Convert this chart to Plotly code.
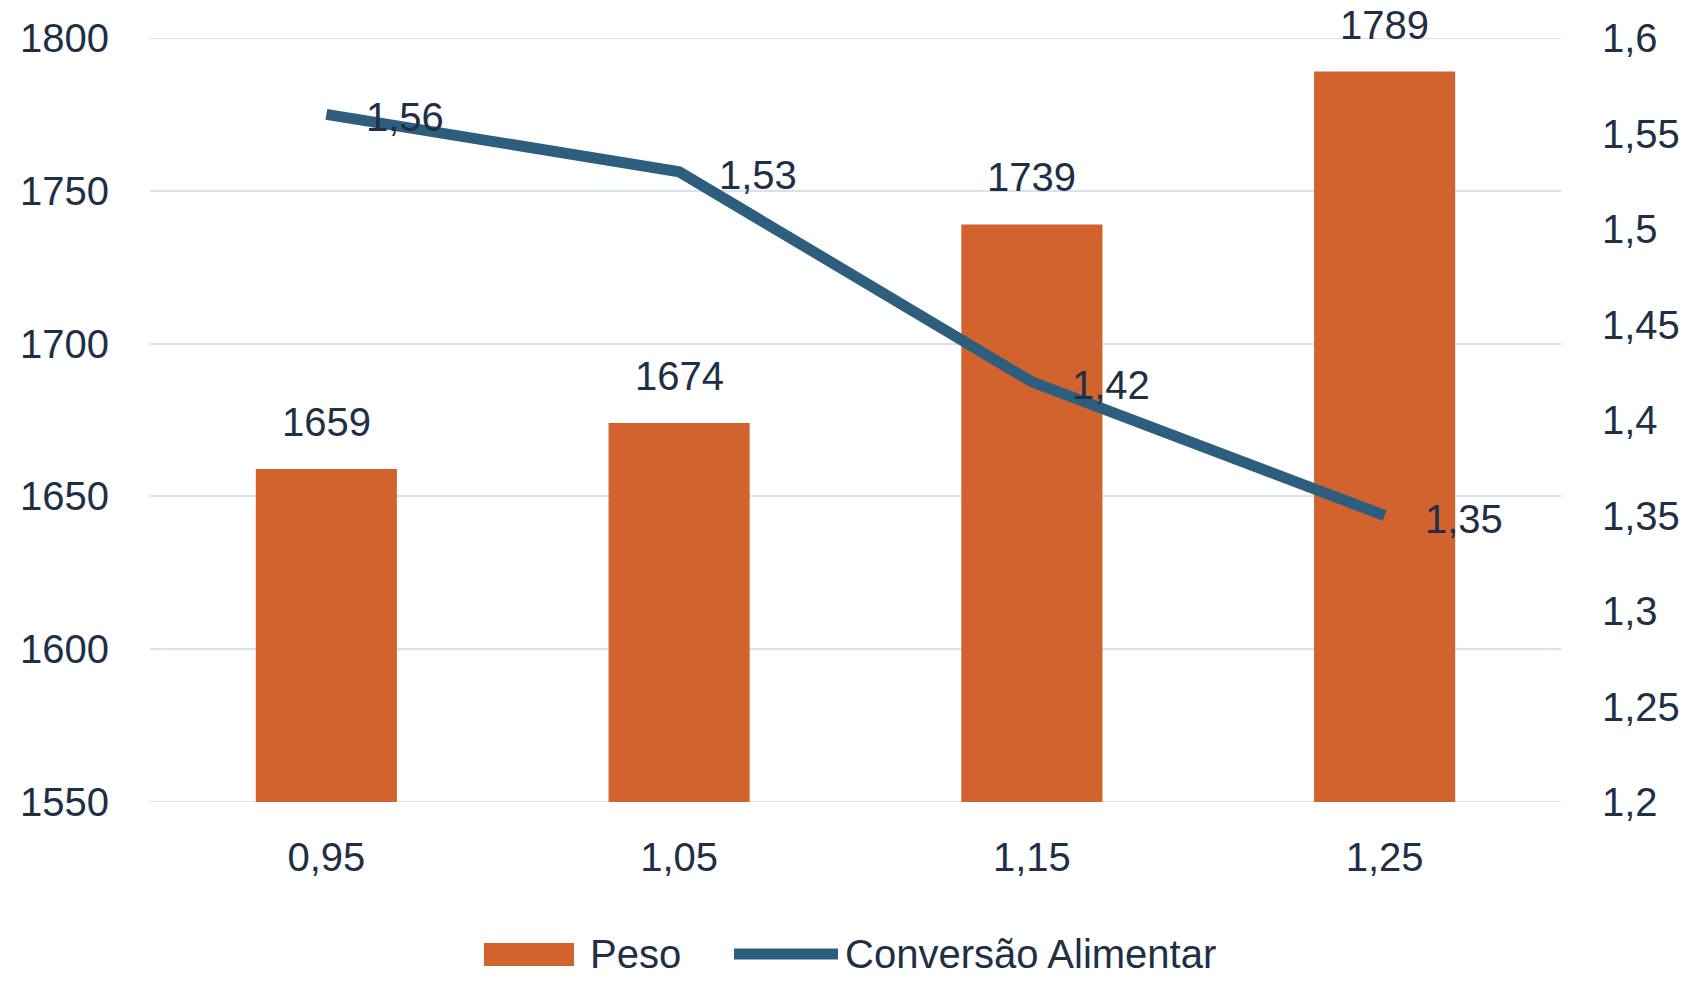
import plotly.graph_objects as go

categories = ["0,95", "1,05", "1,15", "1,25"]
peso = [1659, 1674, 1739, 1789]
conversao = [1.56, 1.53, 1.42, 1.35]
left_ticks = [1550, 1600, 1650, 1700, 1750, 1800]
right_ticks = [1.2, 1.25, 1.3, 1.35, 1.4, 1.45, 1.5, 1.55, 1.6]
right_tick_labels = ["1,2", "1,25", "1,3", "1,35", "1,4", "1,45", "1,5", "1,55", "1,6"]
series_names = ["Peso", "Conversão Alimentar"]

FONT = "Liberation Sans, Arial, sans-serif"
FS = 40
TXT = "#1F2F45"
BAR = "#D3632E"
LINE = "#2E5E7D"
GRID = "#D6E2F1"

fig = go.Figure()
fig.add_trace(go.Bar(x=categories, y=peso, name=series_names[0],
                     marker=dict(color=BAR, line=dict(width=0)), width=0.4, showlegend=False))
fig.add_trace(go.Scatter(x=categories, y=conversao, name=series_names[1], yaxis="y2",
                         mode="lines", line=dict(color=LINE, width=11), showlegend=False))

annotations = []
for c, v in zip(categories, peso):
    annotations.append(dict(x=c, y=v, xref="x", yref="y", text=str(v), showarrow=False,
                            yshift=47, font=dict(size=FS, color=TXT, family=FONT)))
for c, v in zip(categories, conversao):
    annotations.append(dict(x=c, y=v, xref="x", yref="y2", text=f"{v:.2f}".replace(".", ","),
                            showarrow=False, xanchor="left", xshift=38, yshift=-3,
                            font=dict(size=FS, color=TXT, family=FONT)))

# custom legend (layout decoration)
annotations.append(dict(x=0.3104, y=-0.199, xref="paper", yref="paper", text=series_names[0],
                        showarrow=False, xanchor="left", yanchor="middle",
                        font=dict(size=FS, color=TXT, family=FONT)))
annotations.append(dict(x=0.4911, y=-0.199, xref="paper", yref="paper", text=series_names[1],
                        showarrow=False, xanchor="left", yanchor="middle",
                        font=dict(size=FS, color=TXT, family=FONT)))

shapes = [
    dict(type="rect", xref="paper", yref="paper", x0=0.2367, x1=0.3005, y0=-0.2147, y1=-0.1846,
         fillcolor=BAR, line=dict(width=0)),
    dict(type="line", xref="paper", yref="paper", x0=0.4139, x1=0.4876, y0=-0.199, y1=-0.199,
         line=dict(color=LINE, width=11)),
]
# gridlines at the range edges
for t in (left_ticks[0], left_ticks[-1]):
    shapes.append(dict(type="line", xref="paper", yref="y", x0=0, x1=1, y0=t, y1=t,
                       layer="below", line=dict(color=GRID, width=2)))

fig.update_layout(
    width=1706, height=1000,
    margin=dict(l=150, r=145, t=38, b=198),
    paper_bgcolor="white", plot_bgcolor="white",
    separators=",.",
    font=dict(family=FONT, size=FS, color=TXT),
    bargap=0.6,
    showlegend=False,
    annotations=annotations,
    shapes=shapes,
    xaxis=dict(type="category", showgrid=False, showline=False, ticks="",
               ticklabelstandoff=28, tickfont=dict(size=FS, color=TXT)),
    yaxis=dict(range=[1550, 1800], tickvals=left_ticks, showgrid=True, gridcolor=GRID, gridwidth=2,
               zeroline=False, showline=False, ticks="", ticklabelstandoff=40,
               tickfont=dict(size=FS, color=TXT)),
    yaxis2=dict(range=[1.2, 1.6], tickvals=right_ticks, ticktext=right_tick_labels, overlaying="y",
                side="right", showgrid=False, zeroline=False, showline=False, ticks="",
                ticklabelstandoff=40, tickfont=dict(size=FS, color=TXT)),
)

fig.write_html("out.html")
